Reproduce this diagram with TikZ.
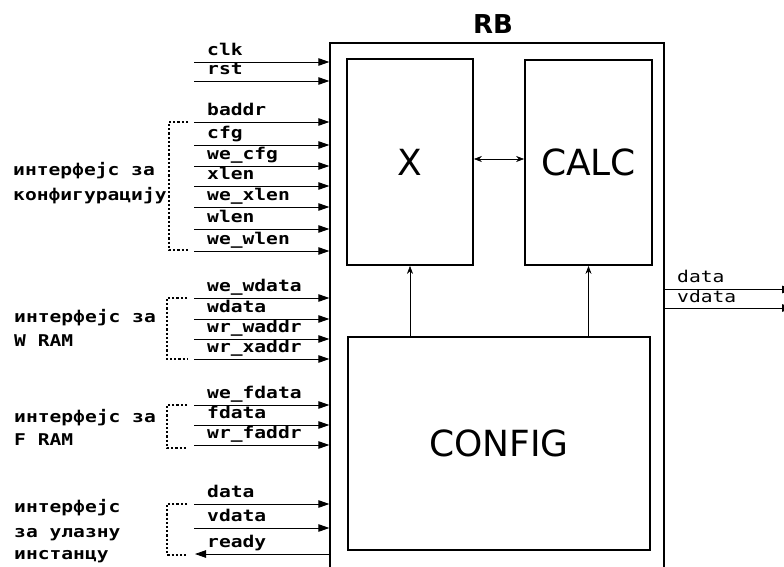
\documentclass[tikz,border=0pt]{standalone}
\usepackage{fontspec}
\usetikzlibrary{arrows.meta}
\newfontfamily\sigfont[FakeStretch=1.21]{DejaVu Sans Mono}
\newfontfamily\boxfont{DejaVu Sans}
\begin{document}
\begin{tikzpicture}[x=1pt,y=-1pt,
  sig/.style={font=\sigfont\bfseries\fontsize{16.2}{19}\selectfont, anchor=base west, inner sep=0pt},
  osig/.style={font=\sigfont\fontsize{16.2}{19}\selectfont, anchor=base west, inner sep=0pt},
  wire/.style={line width=0.9pt, -{Triangle[length=11pt,width=7.5pt]}},
  blk/.style={draw, line width=1.8pt, inner sep=0pt, font=\boxfont\fontsize{36}{40}\selectfont},
  inarrow/.style={line width=0.6pt, -{Stealth[length=8pt,width=6pt]}},
  brk/.style={line width=2.2pt, dash pattern=on 2.2pt off 2pt}
]
\useasboundingbox (0,0) rectangle (784,567);

% main box
\node[draw, line width=1.3pt, minimum width=334pt, minimum height=537pt, inner sep=0pt] (rb) at (497,311.5) {};
\node[font=\boxfont\bfseries\fontsize{26}{30}\selectfont, anchor=base, inner sep=0pt] (rbl) at (493,34) {RB};

% inner blocks
\node[blk, minimum width=126pt, minimum height=206pt] (x) at (410,162) {X};
\node[blk, minimum width=127pt, minimum height=205pt] (calc) at (588.5,162.5) {CALC};
\node[blk, minimum width=302pt, minimum height=213pt] (config) at (499,443.5) {CONFIG};

\draw[line width=0.6pt, {Stealth[length=8pt,width=6pt]}-{Stealth[length=8pt,width=6pt]}] ([yshift=3pt]x.east) -- ([yshift=3pt]x.east -| calc.west);
\draw[inarrow] (config.north -| x.south) -- (x.south);
\draw[inarrow] (config.north -| calc.south) -- (calc.south);

% input wires
\foreach \n/\yy/\t in {i1/62/clk, i2/81/rst, i3/122/baddr, i4/145/cfg, i5/166/we\_cfg, i6/186/xlen, i7/207/we\_xlen, i8/229/wlen, i9/251/we\_wlen, i10/298/we\_wdata, i11/319/wdata, i12/339/wr\_waddr, i13/359/wr\_xaddr, i14/405/we\_fdata, i15/425/fdata, i16/445/wr\_faddr, i17/504/data, i18/528/vdata}{
  \coordinate (\n) at (194,\yy);
  \draw[wire] (\n) -- (\n -| rb.west);
  \node[sig] (\n l) at (207,\yy-6.5) {\t};
}
% ready (output to the left)
\coordinate (rdy) at (195,554);
\draw[wire] (rdy -| rb.west) -- (rdy);
\node[sig] (rdyl) at (207,547.5) {ready};

% output wires
\coordinate (o1) at (793,289.5);
\coordinate (o2) at (793,308);
\draw[wire] (o1 -| rb.east) -- (o1);
\draw[wire] (o2 -| rb.east) -- (o2);
\node[osig] (o1l) at (677,282.5) {data};
\node[osig] (o2l) at (677,302) {vdata};

% brackets
\draw[brk] (188,122) -- (169,122) -- (169,250) -- (188,250);
\draw[brk] (187,298) -- (167,298) -- (167,359) -- (187,359);
\draw[brk] (187,405) -- (167,405) -- (167,448) -- (187,448);
\draw[brk] (187,504) -- (167,504) -- (167,555) -- (187,555);

% group labels
\node[sig] (g1a) at (13,175) {интерфејс за};
\node[sig] (g1b) at (13,200) {конфигурацију};
\node[sig] (g2a) at (14,322) {интерфејс за};
\node[sig] (g2b) at (14,346) {W RAM};
\node[sig] (g3a) at (14,422) {интерфејс за};
\node[sig] (g3b) at (14,445) {F RAM};
\node[sig] (g4a) at (14,512) {интерфејс};
\node[sig] (g4b) at (14,537) {за улазну};
\node[sig] (g4c) at (14,559) {инстанцу};
\end{tikzpicture}
\end{document}
